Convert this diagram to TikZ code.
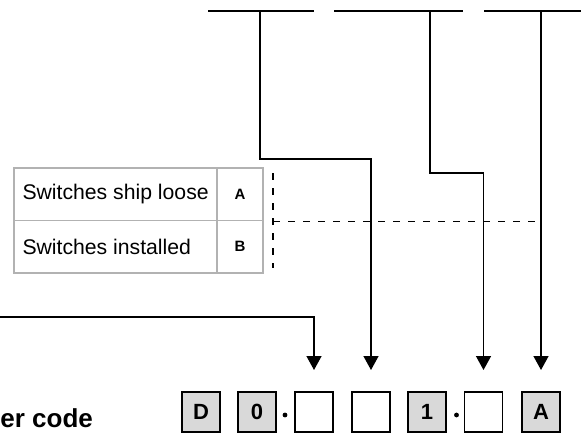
\documentclass[tikz,border=0pt]{standalone}
\usepackage{fontspec}
\setmainfont{Liberation Sans}
\usetikzlibrary{arrows.meta,positioning}
\definecolor{cGrid}{RGB}{178,178,178}
\definecolor{cFill}{RGB}{217,217,217}

\begin{document}
\begin{tikzpicture}[x=0.5pt,y=-0.5pt,
	lead/.style={line width=0.7pt, shorten >=11pt, -{Triangle[width=7.5pt,length=7pt]}},
	bar/.style={line width=0.7pt},
	digit/.style={
		draw, line width=0.75pt, minimum width=19pt, minimum height=20pt,
		inner sep=0pt, outer sep=0pt, font=\bfseries\fontsize{11}{13}\selectfont
	},
	fixed/.style={digit, fill=cFill},
	cell/.style={
		draw=cGrid, line width=0.6pt, minimum height=26.25pt, inner sep=0pt,
		outer sep=0pt, anchor=north west
	},
	txtcell/.style={cell, inner xsep=4.25pt, font=\fontsize{10.6}{12}\selectfont},
	keycell/.style={cell, minimum width=23pt, font=\bfseries\fontsize{7.5}{9}\selectfont},
	guide/.style={line width=0.7pt, dash pattern=on 3.5pt off 4pt}
	]
	\useasboundingbox (0,0) rectangle (581,438);

	% code boxes
	\foreach \n/\x/\t/\s in {bD/201/D/fixed,bZ/257/0/fixed,b1/314//digit,b2/371//digit,
		bO/427/1/fixed,b3/483.5//digit,bA/541/A/fixed}
	\node[\s] (\n) at (\x,412) {\t};
	\fill (285,415) circle (1.2pt);
	\fill (456.5,415) circle (1.2pt);

	\node[anchor=base west, inner sep=0pt, font=\bfseries\fontsize{13}{15}\selectfont] (lbl) at (0,427) {er code};

	% option table
	\node[txtcell] (s1) at (14,168) {\makebox[93pt][l]{Switches ship loose}};
	\node[keycell] (k1) at (s1.north east) {A};
	\node[txtcell] (s2) at (s1.south west) {\makebox[93pt][l]{Switches installed}};
	\node[keycell] (k2) at (s2.north east) {B};

	% top bars
	\draw[bar] (208,11) -- (314,11);
	\draw[bar] (334,11) -- (463,11);
	\draw[bar] (484,11) -- (581,11);

	\coordinate (t1) at (260,11);
	\coordinate (j1) at (260,159);
	\coordinate (t2) at (430,11);
	\coordinate (j2) at (430,173);
	\coordinate (w0) at (0,317);

	\draw[lead] (t1) -- (j1) -| (b2.north);
	\draw[lead] (t2) -- (j2) -| (b3.north);
	\draw[lead] (bA.north |- t1) -- (bA.north);
	\draw[lead] (w0) -| (b1.north);

	% dashed guides
	\coordinate (g1) at (273,173);
	\coordinate (g2) at (273,268);
	\coordinate (g0) at (273,221.5);
	\draw[guide] (g1) -- (g2);
	\draw[guide] (g0) -- (g0 -| bA.north);
\end{tikzpicture}
\end{document}
